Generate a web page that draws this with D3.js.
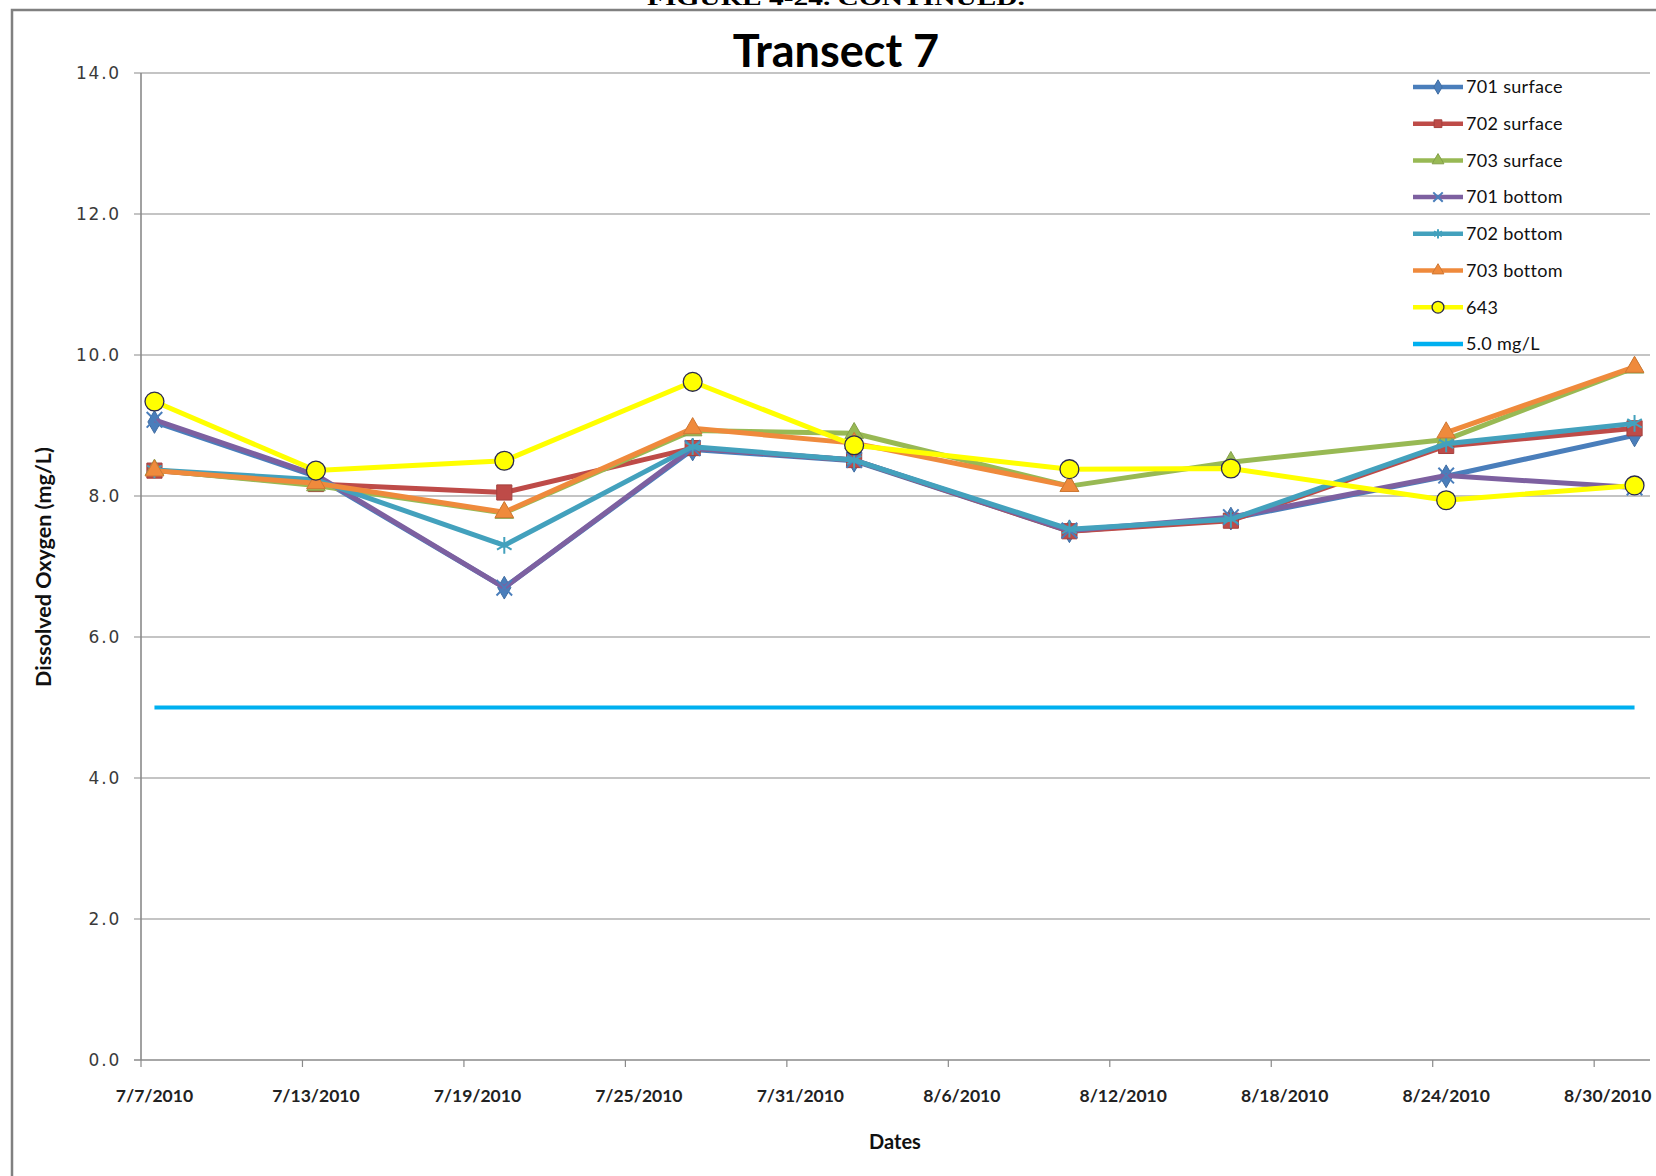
<!DOCTYPE html>
<html>
<head>
<meta charset="utf-8">
<script src="https://cdn.jsdelivr.net/npm/d3@7"></script>
<style>
  html, body { margin: 0; padding: 0; background: #fff; }
  svg { display: block; }
</style>
</head>
<body>
<svg id="chart" width="1656" height="1176"></svg>
<script>
// Sampling dates and dissolved oxygen readings (mg/L) for Transect 7
const dates = ["2010-07-07","2010-07-13","2010-07-20","2010-07-27","2010-08-02",
               "2010-08-10","2010-08-16","2010-08-24","2010-08-31"];
const s701surface = [9.05, 8.28, 6.70, 8.66, 8.50, 7.50, 7.68, 8.28, 8.86];
const s702surface = [8.36, 8.17, 8.05, 8.68, 8.51, 7.50, 7.65, 8.71, 8.96];
const s703surface = [8.37, 8.15, 7.76, 8.93, 8.89, 8.14, 8.48, 8.80, 9.82];
const s701bottom  = [9.08, 8.30, 6.70, 8.68, 8.51, 7.51, 7.70, 8.29, 8.12];
const s702bottom  = [8.37, 8.23, 7.30, 8.70, 8.51, 7.53, 7.67, 8.74, 9.03];
const s703bottom  = [8.36, 8.18, 7.77, 8.96, 8.75, 8.14, null, 8.90, 9.83];
const s643        = [9.34, 8.36, 8.50, 9.62, 8.72, 8.38, 8.39, 7.94, 8.15];
const limitDates  = ["2010-07-07", "2010-08-31"];
const limitValues = [5.0, 5.0];

const seriesNames = ["701 surface","702 surface","703 surface","701 bottom",
                     "702 bottom","703 bottom","643","5.0 mg/L"];
const yTicks = [0, 2, 4, 6, 8, 10, 12, 14];
const xTickDates = ["2010-07-07","2010-07-13","2010-07-19","2010-07-25","2010-07-31",
                    "2010-08-06","2010-08-12","2010-08-18","2010-08-24","2010-08-30"];

const parse = d3.timeParse("%Y-%m-%d");
const fmt = d3.timeFormat("%-m/%-d/%Y");

const svg = d3.select("#chart");

// Page frame and the caption running off the top edge
svg.append("text")
  .attr("x", 836).attr("y", 5)
  .attr("text-anchor", "middle")
  .attr("font-family", "'Liberation Serif', 'Times New Roman', serif")
  .attr("font-weight", "bold")
  .attr("font-size", 22)
  .attr("textLength", 378)
  .attr("lengthAdjust", "spacingAndGlyphs")
  .attr("fill", "#000")
  .text("FIGURE 4-24. CONTINUED.");

svg.append("rect")
  .attr("x", 12).attr("y", 10)
  .attr("width", 1720).attr("height", 1220)
  .attr("fill", "none")
  .attr("stroke", "#808080")
  .attr("stroke-width", 2.5);

// Plot area
const plotLeft = 141, plotRight = 1648, plotTop = 73, plotBottom = 1060;
const x = d3.scaleTime()
  .domain([parse("2010-07-07"), parse("2010-09-01")])
  .range([plotLeft, plotRight]);
const y = d3.scaleLinear().domain([0, 14]).range([plotBottom, plotTop]);
const mid = d => d3.timeHour.offset(parse(d), 12);   // centre of the day slot

// Horizontal gridlines
svg.append("g")
  .selectAll("line")
  .data(yTicks)
  .join("line")
  .attr("x1", plotLeft - 7).attr("x2", 1650)
  .attr("y1", d => y(d)).attr("y2", d => y(d))
  .attr("stroke", "#8a8a8a")
  .attr("stroke-width", d => d === 0 ? 1.6 : 1.1);

// Vertical axis line
svg.append("line")
  .attr("x1", plotLeft).attr("x2", plotLeft)
  .attr("y1", plotTop).attr("y2", plotBottom)
  .attr("stroke", "#8a8a8a").attr("stroke-width", 1.6);

// Y tick labels
svg.append("g")
  .selectAll("text")
  .data(yTicks)
  .join("text")
  .attr("x", 121).attr("y", d => y(d))
  .attr("dy", "0.36em")
  .attr("text-anchor", "end")
  .attr("font-family", "'DejaVu Sans', Verdana, sans-serif")
  .attr("font-size", 17)
  .attr("letter-spacing", 1.8)
  .attr("fill", "#3a3a3a")
  .text(d => d3.format(".1f")(d));

// X ticks and labels
const xg = svg.append("g");
xg.selectAll("line")
  .data(xTickDates)
  .join("line")
  .attr("x1", d => x(parse(d))).attr("x2", d => x(parse(d)))
  .attr("y1", plotBottom).attr("y2", plotBottom + 7)
  .attr("stroke", "#8a8a8a").attr("stroke-width", 1.2);
xg.selectAll("text")
  .data(xTickDates)
  .join("text")
  .attr("x", d => x(mid(d))).attr("y", 1102)
  .attr("text-anchor", "middle")
  .attr("font-family", "Lato, 'Open Sans', sans-serif")
  .attr("font-weight", "bold")
  .attr("font-size", 17.5)
  .attr("fill", "#222")
  .text(d => fmt(parse(d)));

// Axis titles and chart title
svg.append("text")
  .attr("x", 836).attr("y", 67)
  .attr("text-anchor", "middle")
  .attr("font-family", "Lato, 'Open Sans', sans-serif")
  .attr("font-weight", "bold")
  .attr("font-size", 45)
  .attr("fill", "#000")
  .text("Transect 7");

svg.append("text")
  .attr("transform", "translate(51,567) rotate(-90)")
  .attr("text-anchor", "middle")
  .attr("font-family", "Lato, 'Open Sans', sans-serif")
  .attr("font-weight", "bold")
  .attr("font-size", 21.5)
  .attr("fill", "#111")
  .text("Dissolved Oxygen (mg/L)");

svg.append("text")
  .attr("x", 895).attr("y", 1149)
  .attr("text-anchor", "middle")
  .attr("font-family", "Lato, 'Open Sans', sans-serif")
  .attr("font-weight", "bold")
  .attr("font-size", 20)
  .attr("fill", "#111")
  .text("Dates");

// Series styles
const symTimes = d3.symbolTimes || d3.symbolX || d3.symbolCross;
const symAst = d3.symbolAsterisk || d3.symbolStar;
const series = [
  { name: seriesNames[0], dates, values: s701surface, color: "#4A7EBB", sym: d3.symbolDiamond, size: 150, kind: "fill" },
  { name: seriesNames[1], dates, values: s702surface, color: "#BE4B48", sym: d3.symbolSquare, size: 230, kind: "fill" },
  { name: seriesNames[2], dates, values: s703surface, color: "#98B954", sym: d3.symbolTriangle, size: 150, kind: "fill" },
  { name: seriesNames[3], dates, values: s701bottom, color: "#7D60A0", sym: symTimes, size: 160, kind: "stroke", mcolor: "#4A7EBB" },
  { name: seriesNames[4], dates, values: s702bottom, color: "#43A1BD", sym: symAst, size: 200, kind: "stroke" },
  { name: seriesNames[5], dates, values: s703bottom, color: "#EF8A3C", sym: d3.symbolTriangle, size: 150, kind: "fill" },
  { name: seriesNames[6], dates, values: s643, color: "#FFFF00", sym: d3.symbolCircle, size: 280, kind: "circle" },
  { name: seriesNames[7], dates: limitDates, values: limitValues, color: "#00B0F0", sym: null, size: 0, kind: "none" }
];

const line = d3.line()
  .defined(d => d.v != null)
  .x(d => x(mid(d.d)))
  .y(d => y(d.v));

function styleMarker(sel, s) {
  if (s.kind === "fill") {
    sel.attr("fill", s.color).attr("stroke", d3.color(s.color).darker(0.4)).attr("stroke-width", 1);
  } else if (s.kind === "stroke") {
    sel.attr("fill", "none").attr("stroke", s.mcolor || s.color).attr("stroke-width", 2);
  } else if (s.kind === "circle") {
    sel.attr("fill", s.color).attr("stroke", "#2a2a50").attr("stroke-width", 1.3);
  }
}

const plot = svg.append("g");
series.forEach(s => {
  const pts = s.dates.map((d, i) => ({ d, v: s.values[i] }));
  plot.append("path")
    .datum(pts)
    .attr("d", line)
    .attr("fill", "none")
    .attr("stroke", s.color)
    .attr("stroke-width", s.kind === "none" ? 4 : 5)
    .attr("stroke-linejoin", "round");
  if (s.sym) {
    plot.append("g")
      .selectAll("path")
      .data(pts.filter(p => p.v != null))
      .join("path")
      .attr("transform", p => `translate(${x(mid(p.d))},${y(p.v)})`)
      .attr("d", d3.symbol().type(s.sym).size(s.size))
      .call(styleMarker, s);
  }
});

// Legend
const lg = svg.append("g");
const legY0 = 87, legStep = 36.7;
series.forEach((s, i) => {
  const ly = legY0 + i * legStep;
  lg.append("line")
    .attr("x1", 1413).attr("x2", 1463)
    .attr("y1", ly).attr("y2", ly)
    .attr("stroke", s.color)
    .attr("stroke-width", 4.5);
  if (s.sym) {
    lg.append("path")
      .attr("transform", `translate(1438,${ly})`)
      .attr("d", d3.symbol().type(s.sym).size(s.kind === "circle" ? 110 : 60))
      .call(styleMarker, s);
  }
  lg.append("text")
    .attr("x", 1466).attr("y", ly)
    .attr("dy", "0.35em")
    .attr("font-family", "Lato, 'Open Sans', sans-serif")
    .attr("font-size", 18)
    .attr("letter-spacing", 0.3)
    .attr("fill", "#111")
    .text(s.name);
});
</script>
</body>
</html>
